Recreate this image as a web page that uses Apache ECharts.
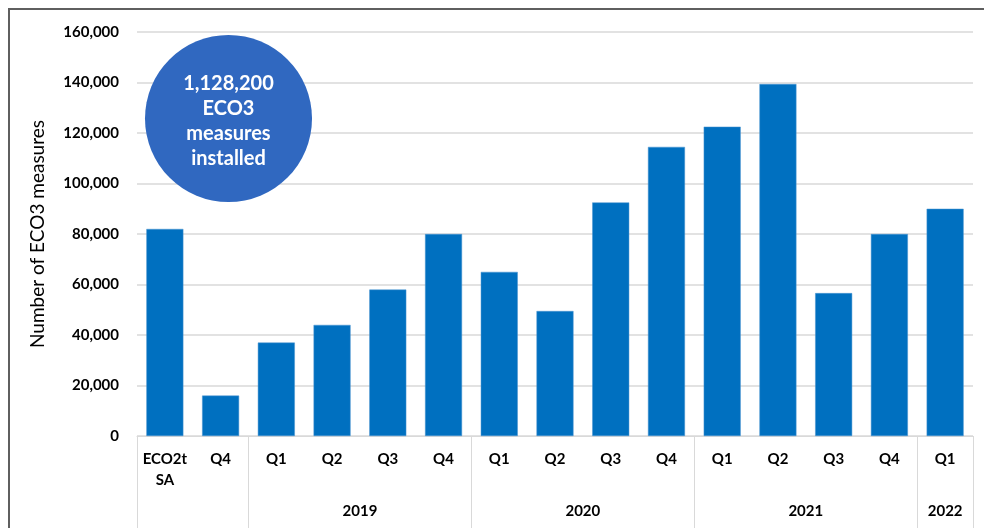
<!DOCTYPE html>
<html>
<head>
<meta charset="utf-8">
<script src="https://cdn.jsdelivr.net/npm/echarts@6/dist/echarts.min.js"></script>
<style>
  html, body { margin: 0; padding: 0; background: #ffffff; }
  #frame { position: absolute; left: 8px; top: 8px; width: 1100px; height: 700px;
           border-left: 2px solid #5f5f5f; border-top: 2px solid #5f5f5f; box-sizing: border-box; }
  #chart { position: absolute; left: 0; top: 0; width: 984px; height: 528px; }
</style>
</head>
<body>
<div id="frame"></div>
<div id="chart"></div>
<script>
// Quarterly ECO3 measures installed
const quarters = ['ECO2t\nSA', 'Q4', 'Q1', 'Q2', 'Q3', 'Q4', 'Q1', 'Q2', 'Q3', 'Q4', 'Q1', 'Q2', 'Q3', 'Q4', 'Q1'];
const measures = [82000, 16000, 37000, 44000, 58000, 80000, 65000, 49500, 92500, 114500, 122500, 139400, 56600, 80000, 90000];

// Year groups below the quarter labels: name and number of quarters covered
const groupNames = ['', '2019', '2020', '2021', '2022'];
const groupSizes = [2, 4, 4, 4, 1];

const yTicks = [0, 20000, 40000, 60000, 80000, 100000, 120000, 140000, 160000];
const totalText = ['1,128,200', 'ECO3', 'measures', 'installed'];

// group boundaries and centres in category units
const bounds = [0];
groupSizes.forEach(s => bounds.push(bounds[bounds.length - 1] + s));
const centres = groupSizes.map((s, i) => bounds[i] + s / 2);
const centreName = {};
centres.forEach((c, i) => { centreName[c] = groupNames[i]; });

const FONT = 'Lato';
const chart = echarts.init(document.getElementById('chart'), null, { renderer: 'canvas' });

chart.setOption({
  backgroundColor: 'transparent',
  animation: false,
  grid: { left: 137, right: 11, top: 32, bottom: 92, containLabel: false },
  xAxis: [
    {
      type: 'category',
      data: quarters,
      axisLine: { show: true, lineStyle: { color: '#d9d9d9', width: 1 } },
      axisTick: { show: false },
      axisLabel: {
        color: '#000', fontFamily: FONT, fontWeight: 'bold', fontSize: 15,
        lineHeight: 21, margin: 13, interval: 0
      }
    },
    {
      type: 'value',
      position: 'bottom',
      min: 0,
      max: bounds[bounds.length - 1],
      splitLine: { show: false },
      axisLine: { show: false },
      axisTick: {
        show: true, length: 92, inside: false,
        customValues: bounds,
        lineStyle: { color: '#d9d9d9', width: 1 }
      },
      axisLabel: {
        show: true, margin: 68,
        customValues: centres,
        formatter: v => centreName[v] || '',
        color: '#000', fontFamily: FONT, fontWeight: 'bold', fontSize: 15
      }
    }
  ],
  yAxis: {
    type: 'value',
    min: yTicks[0],
    max: yTicks[yTicks.length - 1],
    interval: yTicks[1] - yTicks[0],
    name: 'Number of ECO3 measures',
    nameLocation: 'middle',
    nameGap: 90,
    nameTextStyle: { color: '#000', fontFamily: FONT, fontSize: 19 },
    axisLine: { show: false },
    axisTick: { show: false },
    splitLine: { lineStyle: { color: '#d9d9d9', width: 1.5 } },
    axisLabel: {
      color: '#000', fontFamily: FONT, fontWeight: 'bold', fontSize: 15, margin: 18,
      formatter: v => v.toLocaleString('en-GB')
    }
  },
  series: [{
    type: 'bar',
    xAxisIndex: 0,
    data: measures,
    barWidth: 37,
    itemStyle: { color: '#0070c0', borderColor: '#4a95d0', borderWidth: 0.5 }
  }],
  graphic: [{
    type: 'group',
    left: 145, top: 35,
    z: 100,
    children: [
      { type: 'circle', z: 100, shape: { cx: 83, cy: 84, r: 83.5 }, style: { fill: '#3068c0' } },
      {
        type: 'text', z: 101, x: 83, y: 87,
        style: {
          text: totalText.join('\n'),
          fill: '#ffffff', font: 'bold 20px ' + FONT, lineHeight: 25,
          align: 'center', verticalAlign: 'middle'
        }
      }
    ]
  }]
});
</script>
</body>
</html>
